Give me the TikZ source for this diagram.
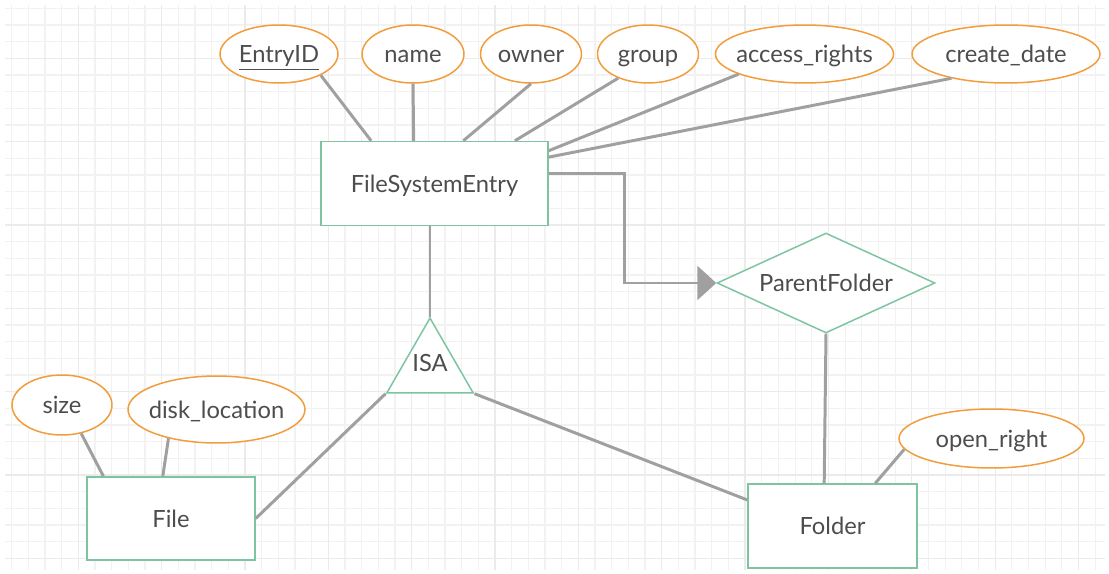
\documentclass[tikz,border=0pt]{standalone}
\usepackage{fontspec}
\setmainfont{Lato}
\usetikzlibrary{arrows.meta, shapes.geometric}
\definecolor{attrorange}{HTML}{F39C3C}
\definecolor{entgreen}{HTML}{7DC5A0}
\definecolor{linkgrey}{HTML}{A0A0A0}
\definecolor{textgrey}{HTML}{4D4D4D}
\definecolor{gridminor}{HTML}{F2F2F2}
\definecolor{gridmajor}{HTML}{EBEBEB}
\begin{document}
\begin{tikzpicture}[
		x=0.02cm, y=-0.02cm,
		every node/.style={font=\fontsize{13.5}{16}\selectfont, text=textgrey, inner sep=0pt, text height=9.7pt, text depth=0pt},
		attr/.style={draw=attrorange, ellipse, fill=white, line width=0.85pt, minimum height=1.16cm},
		entity/.style={draw=entgreen, rectangle, fill=white, line width=0.85pt},
		relation/.style={draw=entgreen, diamond, aspect=2.18, fill=white, line width=0.85pt, minimum width=4.36cm, minimum height=2cm},
		isa/.style={draw=entgreen, regular polygon, regular polygon sides=3, fill=white, line width=0.85pt, minimum size=1.894cm},
		link/.style={draw=linkgrey, line width=1.7pt}
		]
		\useasboundingbox (0,0) rectangle (1109,574);
		% Background grid
		\foreach \i in {0,...,65}
			\draw[gridminor, line width=0.6pt] ({11.67+16.667*\i},5) -- ({11.67+16.667*\i},570);
		\foreach \j in {0,...,33}
			\draw[gridminor, line width=0.6pt] (5,{8.33+16.667*\j}) -- (1105,{8.33+16.667*\j});
		\foreach \i in {4,9,...,64}
			\draw[gridmajor, line width=0.6pt] ({11.67+16.667*\i},5) -- ({11.67+16.667*\i},570);
		\foreach \j in {3,8,...,33}
			\draw[gridmajor, line width=0.6pt] (5,{8.33+16.667*\j}) -- (1105,{8.33+16.667*\j});
		
		% Entities
		\node[entity, minimum width=4.54cm, minimum height=1.68cm] (fse) at (434.5,183.5) {FileSystemEntry};
		\node[entity, minimum width=3.36cm, minimum height=1.66cm] (file) at (171,518.5) {File};
		\node[entity, minimum width=3.38cm, minimum height=1.68cm] (folder) at (832.5,526) {Folder};
		
		% Relation and specialisation
		\node[relation] (pf) at (826,283) {ParentFolder};
		\node[isa] (isa) at (430,368) {\raisebox{3pt}{ISA}};
		
		% Attributes of FileSystemEntry
		\node[attr, minimum width=2.36cm] (eid) at (279,54) {\underline{EntryID}};
		\node[attr, minimum width=2.04cm] (nm) at (413,54) {name};
		\node[attr, minimum width=2.02cm] (owner) at (531,54) {owner};
		\node[attr, minimum width=2.02cm] (grp) at (648,54) {group};
		\node[attr, inner xsep=-3pt, minimum width=3.54cm] (acc) at (804.5,54) {access\_rights};
		\node[attr, minimum width=3.76cm] (cdate) at (1006,54) {create\_date};
		% Attributes of File and Folder
		\node[attr, minimum width=2cm, minimum height=1.2cm] (size) at (62,405) {size};
		\node[attr, inner xsep=-3pt, minimum width=3.54cm, minimum height=1.34cm] (disk) at (216.5,409.5) {disk\_location};
		\node[attr, minimum width=3.7cm, minimum height=1.18cm] (open) at (991.5,438.5) {open\_right};
		
		% Attribute links
		\draw[link] (eid.-27) -- (fse.146);
		\draw[link] (nm.south) -- (fse.116);
		\draw[link] (owner.south) -- (fse.56);
		\draw[link] (grp.219) -- (fse.28);
		\draw[link] (acc.197) -- (fse.16.5);
		\draw[link] (cdate.204) -- (fse.13.7);
		\draw[link] (size.-56) -- (file.148);
		\draw[link] (disk.211) -- (file.101);
		\draw[link] (open.187) -- (folder.45);
		
		% Specialisation links
		\draw[link] (isa.corner 1) -- (isa.corner 1 |- fse.south);
		\draw[link] (isa.corner 2) -- (file.east);
		\draw[link] (isa.corner 3) -- (folder.163);
		
		% Parent folder
		\coordinate (bend) at (624,0);
		\draw[link, -{Triangle[length=10.8pt, width=19.3pt]}] (fse.5) -| (bend |- pf.west) -- (pf.west);
		\draw[link] (pf.south) -- (folder.101);
	\end{tikzpicture}
\end{document}
